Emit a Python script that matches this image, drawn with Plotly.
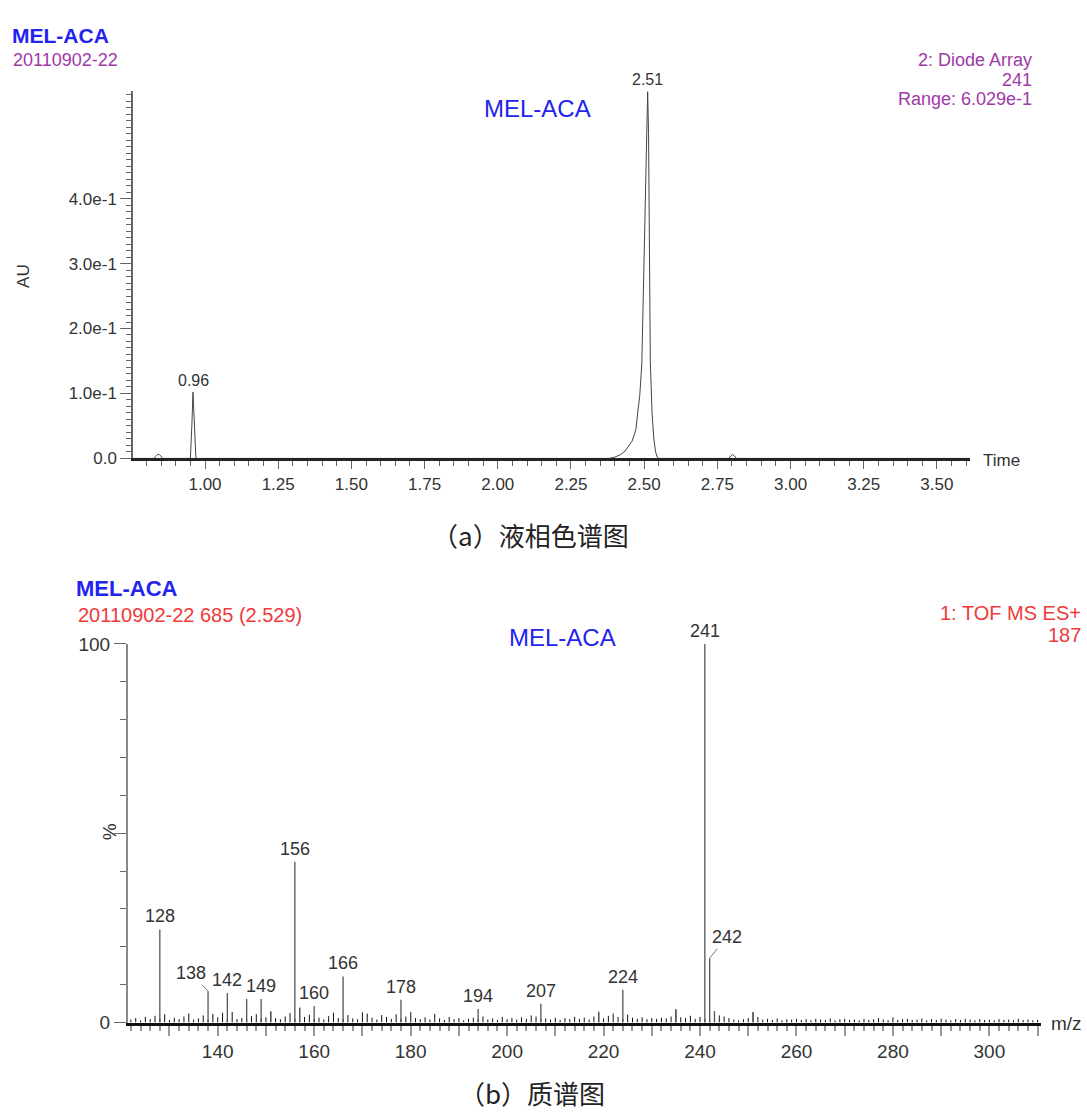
import plotly.graph_objects as go

W, H = 1087, 1117

# ---------------- (a) chromatogram data ----------------
lc_time = [0.754, 0.825, 0.832, 0.838, 0.844, 0.850, 0.856, 0.945, 0.950, 0.955, 0.959, 0.964, 0.969, 0.975,
           2.300, 2.380, 2.400, 2.420, 2.434, 2.450, 2.458, 2.466, 2.472, 2.478, 2.485, 2.492, 2.498, 2.503,
           2.507, 2.512, 2.515, 2.518, 2.521, 2.527, 2.533, 2.539, 2.545, 2.551, 2.780, 2.790, 2.796,
           2.802, 2.808, 2.815, 3.613]
lc_au = [0.0, 0.0, 0.003, 0.006, 0.006, 0.003, 0.0, 0.0, 0.0, 0.05, 0.102, 0.05, 0.0, 0.0,
         0.0, 0.0, 0.002, 0.006, 0.011, 0.020, 0.026, 0.036, 0.045, 0.071, 0.097, 0.146, 0.260, 0.388,
         0.480, 0.565, 0.500, 0.330, 0.150, 0.070, 0.030, 0.010, 0.002, 0.0, 0.0, 0.0, 0.004,
         0.006, 0.004, 0.0, 0.0]
lc_peak_times = [0.96, 2.512]
lc_peak_heights = [0.102, 0.565]
lc_peak_labels = ["0.96", "2.51"]

lc_ytick_vals = [0.0, 0.1, 0.2, 0.3, 0.4]
lc_ytick_text = ["0.0", "1.0e-1", "2.0e-1", "3.0e-1", "4.0e-1"]
lc_xtick_vals = [1.00, 1.25, 1.50, 1.75, 2.00, 2.25, 2.50, 2.75, 3.00, 3.25, 3.50]
lc_xtick_text = ["1.00", "1.25", "1.50", "1.75", "2.00", "2.25", "2.50", "2.75", "3.00", "3.25", "3.50"]

# ---------------- (b) mass spectrum data ----------------
ms_mz = [128, 138, 142, 146, 149, 151, 156, 157, 160, 166, 178, 180, 194, 207, 219, 224, 235, 241, 242, 243, 251]
ms_int = [24.6, 8.3, 7.8, 6.2, 6.2, 3.0, 42.5, 4.0, 4.4, 12.2, 6.0, 2.8, 3.6, 5.0, 2.6, 8.7, 3.2, 100.0, 17.0, 3.0, 2.6]
ms_label_mz = [128, 142, 149, 156, 160, 166, 178, 194, 207, 224, 241]
ms_leader_mz = [138, 242]

noise_start = 122
noise_int = [
    0.8, 1.2, 0.6, 1.5, 0.9, 1.8, 1.0, 2.2, 0.7, 1.3,
    0.9, 1.6, 2.4, 0.8, 1.1, 1.9, 0.7, 2.3, 1.4, 2.6,
    1.0, 2.8, 0.9, 1.2, 1.0, 1.7, 2.2, 1.0, 1.4, 2.9,
    1.2, 0.9, 1.6, 2.5, 1.0, 3.8, 1.5, 2.1, 1.0, 1.3,
    0.8, 1.7, 2.6, 1.2, 1.0, 2.0, 1.1, 0.9, 2.7, 2.4,
    1.3, 0.8, 2.0, 1.5, 1.0, 2.2, 1.0, 1.6, 2.8, 1.2,
    0.9, 1.4, 0.8, 2.3, 1.1, 0.7, 1.5, 0.9, 1.2, 0.6,
    1.0, 1.3, 1.0, 1.6, 0.8, 1.1, 0.7, 1.5, 0.9, 1.2,
    0.8, 1.4, 1.0, 1.9, 1.6, 1.0, 1.1, 0.8, 1.3, 0.7,
    1.2, 0.9, 1.5, 1.0, 1.3, 0.8, 1.6, 2.9, 1.1, 1.8,
    2.4, 1.5, 1.0, 2.1, 1.3, 1.0, 1.4, 0.9, 1.2, 1.0,
    1.3, 1.1, 1.6, 3.6, 1.4, 1.2, 1.8, 1.0, 1.5, 1.0,
    1.0, 2.4, 1.9, 1.6, 1.2, 0.8, 0.6, 0.9, 1.2, 2.8,
    1.5, 0.8, 1.0, 0.7, 1.1, 0.6, 0.9, 0.8, 1.0, 0.7,
    0.9, 0.6, 1.0, 0.8, 0.7, 1.1, 0.6, 0.9, 1.0, 0.7,
    0.8, 0.6, 1.0, 0.7, 0.9, 1.2, 0.8, 0.6, 1.4, 0.7,
    0.9, 1.0, 0.7, 0.8, 1.1, 0.6, 0.9, 0.7, 1.0, 0.8,
    0.6, 0.9, 0.7, 1.0, 0.8, 0.6, 0.9, 0.7, 0.8, 0.6,
    0.9, 0.7, 0.8, 0.6, 1.0, 0.7, 0.8, 0.6, 0.7,
]
ms_xtick_vals = [130, 140, 150, 160, 170, 180, 190, 200, 210, 220, 230, 240, 250, 260, 270, 280, 290, 300, 310]
ms_xtick_text = ["", "140", "", "160", "", "180", "", "200", "", "220", "", "240", "", "260", "", "280", "", "300", ""]
ms_ytick_vals = [0, 50, 100]
ms_ytick_text = ["0", "", "100"]


def px(x):
    return x / W


def py(y):
    return 1 - y / H


FONT = "Liberation Sans, Arial, Helvetica, sans-serif"
CJK = "Noto Sans CJK SC, Noto Sans CJK JP, sans-serif"
BLUE = "#2323f0"
PURPLE = "#a038a8"
RED = "#f03a3a"
TXT = "#333333"
AXC = "#666666"

fig = go.Figure()

# chromatogram trace
fig.add_trace(go.Scatter(x=lc_time, y=lc_au, mode="lines",
                         line=dict(color="#444444", width=1), xaxis="x", yaxis="y",
                         hoverinfo="skip", showlegend=False))

# noise sticks
nx, ny = [], []
for i, h in enumerate(noise_int):
    m = noise_start + i
    nx += [m, m, None]
    ny += [0, h, None]
fig.add_trace(go.Scatter(x=nx, y=ny, mode="lines", line=dict(color="#111111", width=1),
                         xaxis="x2", yaxis="y2", hoverinfo="skip", showlegend=False))

# main peaks
mx, my = [], []
for m, h in zip(ms_mz, ms_int):
    mx += [m, m, None]
    my += [0, h, None]
fig.add_trace(go.Scatter(x=mx, y=my, mode="lines", line=dict(color="#555555", width=1.3),
                         xaxis="x2", yaxis="y2", hoverinfo="skip", showlegend=False))

annotations = []

# chromatogram peak labels
for t, h, lab in zip(lc_peak_times, lc_peak_heights, lc_peak_labels):
    annotations.append(dict(x=t, y=h, xref="x", yref="y", text=lab, showarrow=False,
                            yanchor="bottom", yshift=1, font=dict(family=FONT, size=16, color=TXT)))

# ms peak labels
for m in ms_label_mz:
    h = ms_int[ms_mz.index(m)]
    annotations.append(dict(x=m, y=h, xref="x2", yref="y2", text=str(m), showarrow=False,
                            yanchor="bottom", yshift=1, font=dict(family=FONT, size=18, color=TXT)))
leader_offsets = {138: (-17, -18), 242: (17, -21)}
for m in ms_leader_mz:
    h = ms_int[ms_mz.index(m)]
    ax, ay = leader_offsets[m]
    annotations.append(dict(x=m, y=h, xref="x2", yref="y2", text=str(m), showarrow=True,
                            arrowhead=0, arrowwidth=0.8, arrowcolor="#555555", ax=ax, ay=ay,
                            standoff=0, font=dict(family=FONT, size=18, color=TXT)))


def txt(x, y, s, size, color, xanchor="left", bold=False, family=FONT, angle=0):
    if bold:
        s = "<b>" + s + "</b>"
    annotations.append(dict(x=px(x), y=py(y), xref="paper", yref="paper", text=s, showarrow=False,
                            xanchor=xanchor, yanchor="middle", textangle=angle,
                            font=dict(family=family, size=size, color=color)))


# chart (a) texts
txt(10, 26, "MEL-ACA", 21, BLUE, bold=True)
txt(11, 51, "20110902-22", 18, PURPLE)
txt(1034, 51, "2: Diode Array", 18, PURPLE, xanchor="right")
txt(1034, 71, "241", 18, PURPLE, xanchor="right")
txt(1034, 91, "Range: 6.029e-1", 18, PURPLE, xanchor="right")
txt(537, 100, "MEL-ACA", 24, BLUE, xanchor="center")
txt(24, 271, "AU", 17, TXT, xanchor="center", angle=-90)
txt(981, 459, "Time", 17, TXT)
txt(530, 535, "（a）液相色谱图", 26, "#222222", xanchor="center", family=CJK)

# chart (b) texts
txt(74, 590, "MEL-ACA", 22, BLUE, bold=True)
txt(76, 617, "20110902-22 685 (2.529)", 20, RED)
txt(1083, 615, "1: TOF MS ES+", 20, RED, xanchor="right")
txt(1083, 637, "187", 20, RED, xanchor="right")
txt(562, 640, "MEL-ACA", 24, BLUE, xanchor="center")
txt(109, 838, "%", 19, TXT, xanchor="center", angle=-90)
txt(1049, 1033, "m/z", 19, TXT)
txt(532, 1103, "（b）质谱图", 26, "#222222", xanchor="center", family=CJK)

tick_a = dict(family=FONT, size=17, color=TXT)
tick_b = dict(family=FONT, size=19, color=TXT)

fig.update_layout(
    width=W, height=H, autosize=False,
    margin=dict(l=0, r=0, t=0, b=0),
    paper_bgcolor="white", plot_bgcolor="white",
    showlegend=False,
    annotations=annotations,
    xaxis=dict(domain=[px(133), px(970)], range=[0.754, 3.613], anchor="y",
               tickvals=lc_xtick_vals, ticktext=lc_xtick_text, ticks="outside", ticklen=8,
               tickcolor=AXC, tickwidth=1, showline=True, linecolor="#222222", linewidth=2.5,
               showgrid=False, zeroline=False, tickfont=tick_a,
               minor=dict(dtick=0.05, tick0=0.75, ticks="outside", ticklen=5, tickcolor=AXC, showgrid=False)),
    yaxis=dict(domain=[py(457), py(83)], range=[0, 0.565], anchor="x",
               tickvals=lc_ytick_vals, ticktext=lc_ytick_text, ticks="outside", ticklen=11,
               tickcolor=AXC, tickwidth=1, showline=True, linecolor=AXC, linewidth=1.5,
               showgrid=False, zeroline=False, tickfont=tick_a,
               minor=dict(dtick=0.01, tick0=0, ticks="outside", ticklen=5, tickcolor=AXC, showgrid=False)),
    xaxis2=dict(domain=[px(128), px(1041)], range=[121.4, 310.7], anchor="y2",
                tickvals=ms_xtick_vals, ticktext=ms_xtick_text, ticks="outside", ticklen=10,
                tickcolor="#999999", tickwidth=1.5, showline=True, linecolor="#111111", linewidth=3,
                showgrid=False, zeroline=False, tickfont=tick_b,
                minor=dict(dtick=2, tick0=0, ticks="outside", ticklen=5, tickcolor="#999999", showgrid=False)),
    yaxis2=dict(domain=[py(1032), py(646)], range=[0, 100], anchor="x2",
                tickvals=ms_ytick_vals, ticktext=ms_ytick_text, ticks="outside", ticklen=12,
                tickcolor=AXC, tickwidth=1, showline=True, linecolor="#888888", linewidth=2,
                showgrid=False, zeroline=False, tickfont=tick_b,
                minor=dict(dtick=10, tick0=0, ticks="outside", ticklen=6, tickcolor=AXC, showgrid=False)),
)

fig.write_html("out.html", config={"displayModeBar": False},
               post_script="document.body.style.margin='0';")
